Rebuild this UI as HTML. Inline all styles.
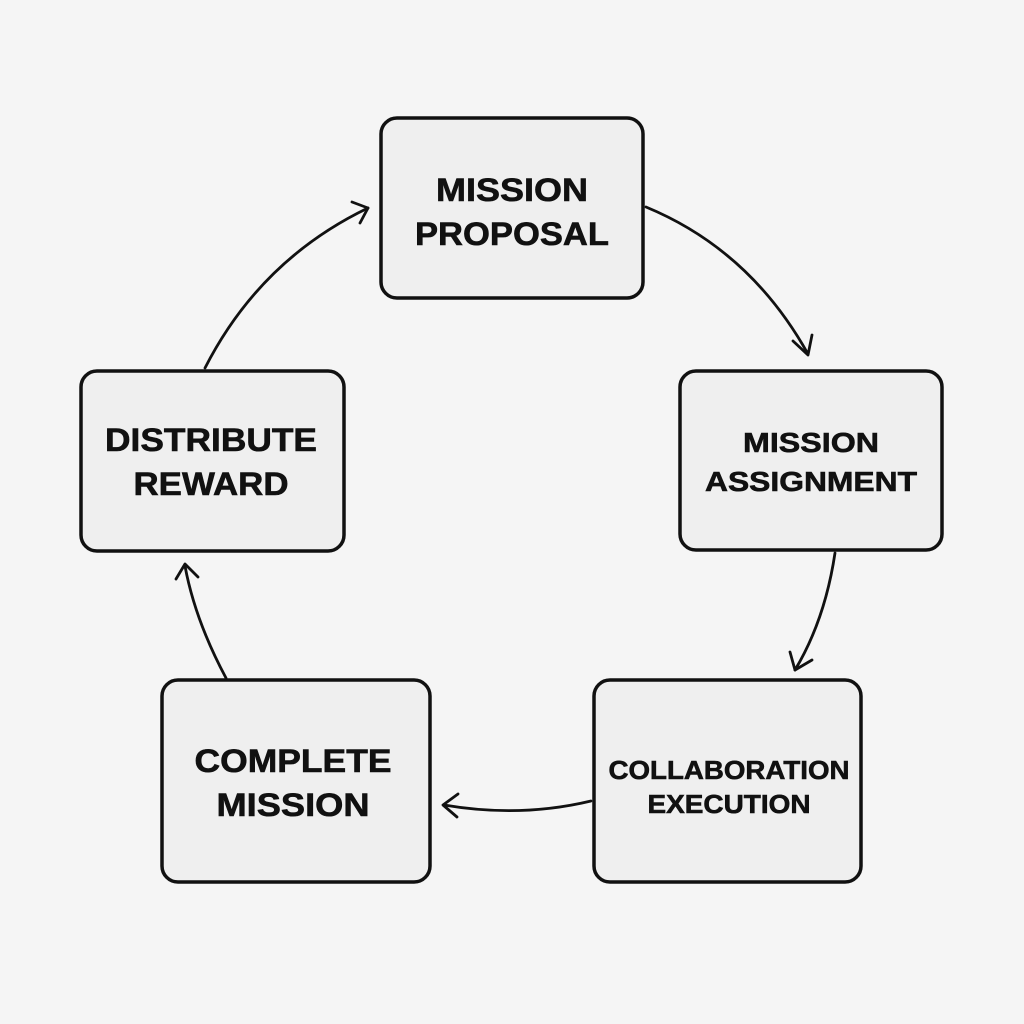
<!DOCTYPE html>
<html><head><style>
html,body{margin:0;padding:0;background:#f5f5f5;}
svg{display:block}
text{font-family:"Liberation Sans",sans-serif;font-weight:bold;fill:#111;text-anchor:middle;stroke:#111;stroke-width:0.6}
</style></head><body>
<svg width="1024" height="1024" viewBox="0 0 1024 1024">
<rect width="1024" height="1024" fill="#f5f5f5"/>
<g fill="#efefef" stroke="#111" stroke-width="3.5">
<rect x="381" y="118" width="262" height="180" rx="16"/>
<rect x="680" y="371" width="262" height="179" rx="16"/>
<rect x="594" y="680" width="267" height="202" rx="16"/>
<rect x="162" y="680" width="268" height="202" rx="16"/>
<rect x="81" y="371" width="263" height="180" rx="16"/>
</g>
<g lengthAdjust="spacingAndGlyphs">
<text x="512" y="201" font-size="32" textLength="152" lengthAdjust="spacingAndGlyphs">MISSION</text>
<text x="512" y="245" font-size="32" textLength="194" lengthAdjust="spacingAndGlyphs">PROPOSAL</text>
<text x="811" y="452" font-size="28" textLength="136" lengthAdjust="spacingAndGlyphs">MISSION</text>
<text x="811" y="491" font-size="28" textLength="212" lengthAdjust="spacingAndGlyphs">ASSIGNMENT</text>
<text x="729" y="779" font-size="26" textLength="241" lengthAdjust="spacingAndGlyphs">COLLABORATION</text>
<text x="729" y="813" font-size="26" textLength="163" lengthAdjust="spacingAndGlyphs">EXECUTION</text>
<text x="293" y="772" font-size="32" textLength="197" lengthAdjust="spacingAndGlyphs">COMPLETE</text>
<text x="293" y="816" font-size="32" textLength="153" lengthAdjust="spacingAndGlyphs">MISSION</text>
<text x="211" y="451" font-size="32" textLength="212" lengthAdjust="spacingAndGlyphs">DISTRIBUTE</text>
<text x="211" y="495" font-size="32" textLength="155" lengthAdjust="spacingAndGlyphs">REWARD</text>
</g>
<g fill="none" stroke="#111" stroke-width="2.8" stroke-linecap="round" stroke-linejoin="round">
<path d="M646 207 Q750 250 808 354"/>
<path d="M793 341 L808 355 L812 335"/>
<path d="M835 553 Q825 620 795 670"/>
<path d="M790 652 L795 670 L812 660"/>
<path d="M591 801 Q520 818 444 805"/>
<path d="M458 794 L443 805 L457 817"/>
<path d="M226 678 Q195 620 185 566"/>
<path d="M176 579 L185 564 L198 577"/>
<path d="M205 368 Q260 260 368 208"/>
<path d="M352 202 L368 208 L360 223"/>
</g>
</svg>
</body></html>
